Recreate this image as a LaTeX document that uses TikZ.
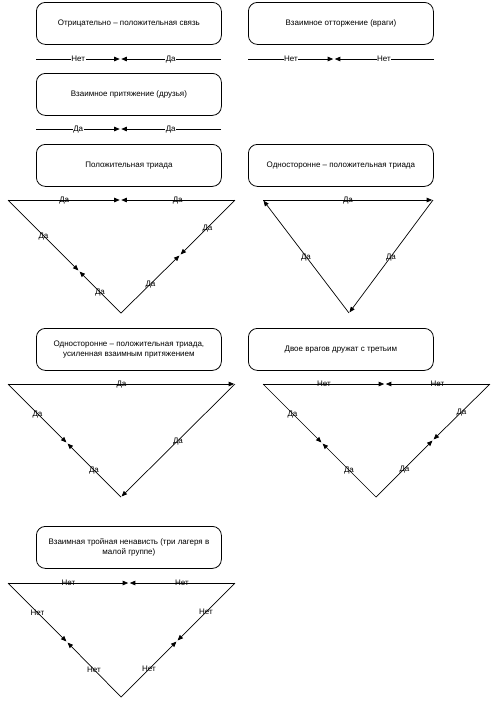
\documentclass[tikz,border=0pt]{standalone}
\usepackage{fontspec}
\setmainfont{Liberation Sans}
\usetikzlibrary{arrows.meta}
\begin{document}
\begin{tikzpicture}[x=1pt,y=-1pt,
  box/.style={draw, rounded corners=9pt, line width=0.8pt, minimum width=185pt, minimum height=42pt,
    align=center, font=\fontsize{8}{10}\selectfont, anchor=north west, inner sep=0pt},
  link/.style={line width=0.7pt, -{Triangle[length=5.5pt,width=4.5pt]}, shorten >=0.8pt},
  lbl/.style={font=\fontsize{8}{9}\selectfont, inner sep=0.5pt, text height=5.6pt, text depth=0pt, midway},
  wlbl/.style={lbl, fill=white}]
\useasboundingbox (0,0) rectangle (500,705);

% --- boxes
\node[box] (b1) at (36,2) {Отрицательно – положительная связь};
\node[box] (b2) at (248,2) {Взаимное отторжение (враги)};
\node[box] (b3) at (36,73) {Взаимное притяжение (друзья)};
\node[box] (b4) at (36,144) {Положительная триада};
\node[box] (b5) at (248,144) {Односторонне – положительная триада};
\node[box] (b6) at (36,328) {Односторонне – положительная триада,\\усиленная взаимным притяжением};
\node[box] (b7) at (248,328) {Двое врагов дружат с третьим};
\node[box] (b8) at (36,526) {Взаимная тройная ненависть (три лагеря в\\малой группе)};

% --- straight relations
\coordinate (l1a) at (36,59); \coordinate (l1m) at (120.5,59); \coordinate (l1b) at (221,59);
\draw[link] (l1a) -- node[wlbl]{Нет} (l1m);
\draw[link] (l1b) -- node[wlbl]{Да} (l1m);

\coordinate (l2a) at (248,59); \coordinate (l2m) at (334,59); \coordinate (l2b) at (434,59);
\draw[link] (l2a) -- node[wlbl]{Нет} (l2m);
\draw[link] (l2b) -- node[wlbl]{Нет} (l2m);

\coordinate (l3a) at (36,129); \coordinate (l3m) at (120.5,129); \coordinate (l3b) at (221,129);
\draw[link] (l3a) -- node[wlbl]{Да} (l3m);
\draw[link] (l3b) -- node[wlbl]{Да} (l3m);

% --- triangle 1: positive triad
\coordinate (t1a) at (8,200); \coordinate (t1b) at (235,200); \coordinate (t1c) at (121,313);
\coordinate (t1ab) at (120.5,200); \coordinate (t1ac) at (79,271); \coordinate (t1bc) at (180,255);
\draw[link] (t1a) -- node[lbl]{Да} (t1ab);
\draw[link] (t1b) -- node[lbl]{Да} (t1ab);
\draw[link] (t1a) -- node[lbl]{Да} (t1ac);
\draw[link] (t1c) -- node[lbl]{Да} (t1ac);
\draw[link] (t1b) -- node[lbl]{Да} (t1bc);
\draw[link] (t1c) -- node[lbl]{Да} (t1bc);

% --- triangle 2: one-sided positive triad
\coordinate (t2a) at (263,200); \coordinate (t2b) at (433,200); \coordinate (t2c) at (349,313);
\draw[link] (t2a) -- node[lbl]{Да} (t2b);
\draw[link] (t2c) -- node[lbl]{Да} (t2a);
\draw[link] (t2b) -- node[lbl]{Да} (t2c);

% --- triangle 3
\coordinate (t3a) at (8,384); \coordinate (t3b) at (235,384); \coordinate (t3c) at (121,497);
\coordinate (t3ac) at (67,443);
\draw[link] (t3a) -- node[lbl]{Да} (t3b);
\draw[link] (t3a) -- node[lbl]{Да} (t3ac);
\draw[link] (t3c) -- node[lbl]{Да} (t3ac);
\draw[link] (t3b) -- node[lbl]{Да} (t3c);

% --- triangle 4
\coordinate (t4a) at (263,384); \coordinate (t4b) at (490,384); \coordinate (t4c) at (376,497);
\coordinate (t4ab) at (385,384); \coordinate (t4ac) at (322,443); \coordinate (t4bc) at (433,440);
\draw[link] (t4a) -- node[lbl]{Нет} (t4ab);
\draw[link] (t4b) -- node[lbl]{Нет} (t4ab);
\draw[link] (t4a) -- node[lbl]{Да} (t4ac);
\draw[link] (t4c) -- node[lbl]{Да} (t4ac);
\draw[link] (t4b) -- node[lbl]{Да} (t4bc);
\draw[link] (t4c) -- node[lbl]{Да} (t4bc);

% --- triangle 5
\coordinate (t5a) at (8,583); \coordinate (t5b) at (235,583); \coordinate (t5c) at (121,697);
\coordinate (t5ab) at (129,583); \coordinate (t5ac) at (67,642); \coordinate (t5bc) at (177,641);
\draw[link] (t5a) -- node[lbl]{Нет} (t5ab);
\draw[link] (t5b) -- node[lbl]{Нет} (t5ab);
\draw[link] (t5a) -- node[lbl]{Нет} (t5ac);
\draw[link] (t5c) -- node[lbl]{Нет} (t5ac);
\draw[link] (t5b) -- node[lbl]{Нет} (t5bc);
\draw[link] (t5c) -- node[lbl]{Нет} (t5bc);
\end{tikzpicture}
\end{document}
